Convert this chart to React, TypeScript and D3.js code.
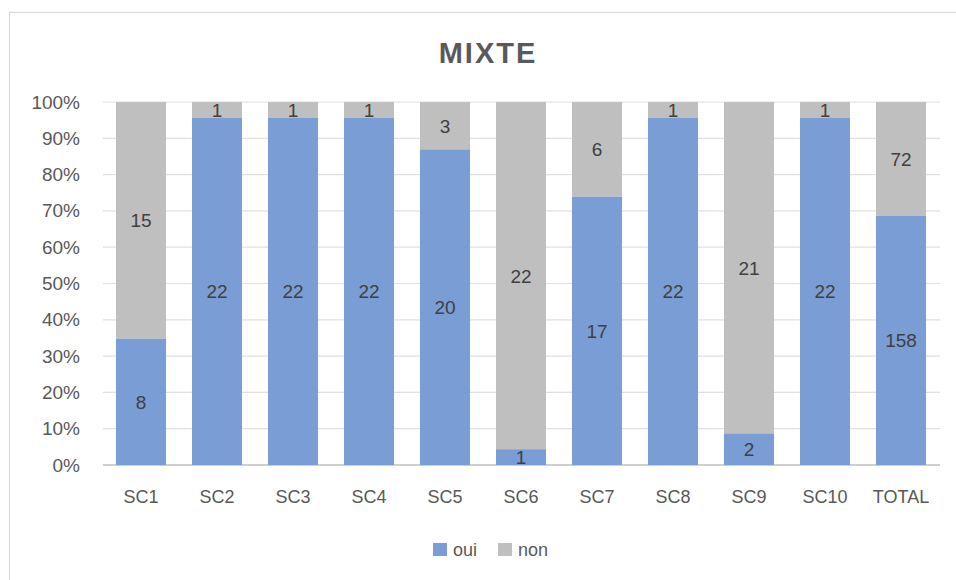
import React from "react";
import * as d3 from "d3";

const categories = ["SC1", "SC2", "SC3", "SC4", "SC5", "SC6", "SC7", "SC8", "SC9", "SC10", "TOTAL"];
const oui = [8, 22, 22, 22, 20, 1, 17, 22, 2, 22, 158];
const non = [15, 1, 1, 1, 3, 22, 6, 1, 21, 1, 72];
const yTicks = [0, 0.1, 0.2, 0.3, 0.4, 0.5, 0.6, 0.7, 0.8, 0.9, 1];
const seriesNames = ["oui", "non"];

const W = 956;
const H = 580;
const BLUE = "#7a9dd6";
const GRAY = "#bfbfbf";
const FONT = "'Liberation Sans', Arial, sans-serif";

export default function App() {
  const x = d3.scaleBand<string>().domain(categories).range([103, 939]).paddingInner(0.342).paddingOuter(0.171);
  const y = d3.scaleLinear().domain([0, 1]).range([465, 102]);
  const fmt = d3.format(".0%");

  return (
    <svg width={W} height={H} style={{ position: "absolute", left: 0, top: 0, display: "block", background: "#fff" }}>
      <rect x={9.5} y={12.5} width={W} height={H} fill="#fff" stroke="#d9d9d9" strokeWidth={1.2} />
      <text x={488} y={63} textAnchor="middle" fontFamily={FONT} fontWeight="bold" fontSize={29} letterSpacing={2} fill="#595959">MIXTE</text>
      {yTicks.map((t) => (
        <g key={t}>
          <line x1={103} x2={940} y1={y(t)} y2={y(t)} stroke={t === 0 ? "#bfbfbf" : "#e0e0e0"} strokeWidth={t === 0 ? 1.5 : 1.2} />
          <text x={80} y={y(t) + 6.5} textAnchor="end" fontFamily={FONT} fontSize={19} fill="#595959">{fmt(t)}</text>
        </g>
      ))}
      {categories.map((c, i) => {
        const total = oui[i] + non[i];
        const p = oui[i] / total;
        const bx = x(c)!;
        const bw = x.bandwidth();
        const cx = bx + bw / 2;
        return (
          <g key={c}>
            <rect x={bx} y={y(1)} width={bw} height={y(p) - y(1)} fill={GRAY} />
            <rect x={bx} y={y(p)} width={bw} height={y(0) - y(p)} fill={BLUE} />
            <text x={cx} y={(y(p) + y(0)) / 2 + 7} textAnchor="middle" fontFamily={FONT} fontSize={19} fill="#404040">{oui[i]}</text>
            <text x={cx} y={(y(1) + y(p)) / 2 + 7} textAnchor="middle" fontFamily={FONT} fontSize={19} fill="#404040">{non[i]}</text>
            <text x={cx} y={503} textAnchor="middle" fontFamily={FONT} fontSize={18} fill="#595959">{c}</text>
          </g>
        );
      })}
      {seriesNames.map((s, i) => {
        const lx = i === 0 ? 433 : 498;
        return (
          <g key={s}>
            <rect x={lx} y={543} width={14} height={13} fill={i === 0 ? BLUE : GRAY} />
            <text x={lx + 20} y={556} fontFamily={FONT} fontSize={18} fill="#595959">{s}</text>
          </g>
        );
      })}
    </svg>
  );
}
